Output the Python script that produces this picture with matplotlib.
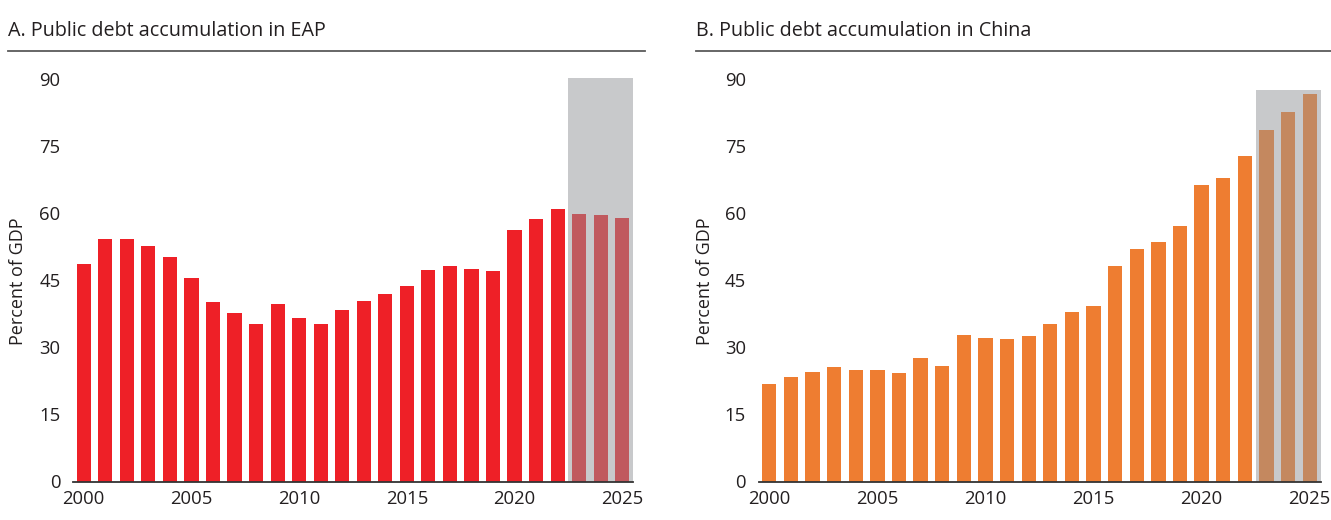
import matplotlib
matplotlib.use("Agg")
import matplotlib.pyplot as plt
from matplotlib.lines import Line2D

plt.rcParams['font.family'] = ['Open Sans', 'DejaVu Sans']

years = list(range(2000, 2026))
eap_debt = [48.7, 54.2, 54.3, 52.7, 50.3, 45.5, 40.1, 37.8, 35.3, 39.7, 36.6, 35.3, 38.3,
            40.5, 41.9, 43.7, 47.3, 48.3, 47.5, 47.2, 56.4, 58.7, 61.0, 59.8, 59.7, 59.0]
china_debt = [21.8, 23.5, 24.5, 25.6, 25.0, 25.0, 24.2, 27.7, 25.9, 32.9, 32.2, 32.0, 32.6,
              35.3, 38.0, 39.4, 48.2, 52.0, 53.6, 57.2, 66.3, 68.0, 72.8, 78.6, 82.8, 86.7]
forecast_start = 2023
titles = ["A. Public debt accumulation in EAP", "B. Public debt accumulation in China"]
ylabel = "Percent of GDP"
yticks = [0, 15, 30, 45, 60, 75, 90]
xticks = [2000, 2005, 2010, 2015, 2020, 2025]

W, H = 1331, 520
fig = plt.figure(figsize=(W / 100, H / 100), dpi=100)

text_color = "#231f20"
panels = [
    dict(data=eap_debt, color="#ee2027", fc_color="#c0595e", shade_top=90.4,
         ax_px=(73, 633), title_x=8, line_px=(8, 645), ylabel_x=18),
    dict(data=china_debt, color="#ee7d31", fc_color="#c4885f", shade_top=87.6,
         ax_px=(758.5, 1320.5), title_x=696, line_px=(696, 1331), ylabel_x=705),
]

y0_px, ytop_px = 481.5, 77.7
ymax = 90.4

for p, title in zip(panels, titles):
    l, r = p["ax_px"]
    ax = fig.add_axes([l / W, (H - y0_px) / H, (r - l) / W, (y0_px - ytop_px) / H])
    ax.set_xlim(1999.5, 2025.5)
    ax.set_ylim(0, ymax)
    ax.axvspan(forecast_start - 0.5, 2025.5, ymin=0, ymax=p["shade_top"] / ymax,
               color="#c8c9cb", lw=0, zorder=0)
    cols = [p["color"] if yr < forecast_start else p["fc_color"] for yr in years]
    ax.bar(years, p["data"], width=0.66, color=cols, zorder=2, lw=0)
    for s in ["top", "right", "left"]:
        ax.spines[s].set_visible(False)
    ax.spines["bottom"].set_color("#333333")
    ax.spines["bottom"].set_linewidth(1.3)
    ax.spines["bottom"].set_zorder(3)
    ax.set_yticks(yticks)
    ax.set_xticks(xticks)
    ax.tick_params(axis="y", length=0, pad=9, labelsize=13.3, labelcolor=text_color)
    ax.tick_params(axis="x", length=0, pad=6, labelsize=13.3, labelcolor=text_color)
    fig.text(p["ylabel_x"] / W, (H - 281) / H, ylabel, rotation=90, ha="center", va="center",
             fontsize=13, color=text_color)
    fig.text(p["title_x"] / W, (H - 36) / H, title, ha="left", va="baseline",
             fontsize=14.2, color=text_color)
    a, b = p["line_px"]
    fig.add_artist(Line2D([a / W, b / W], [(H - 51) / H] * 2, color="#5a5a5a", lw=1.3))

fig.savefig("out.png", dpi=100)
